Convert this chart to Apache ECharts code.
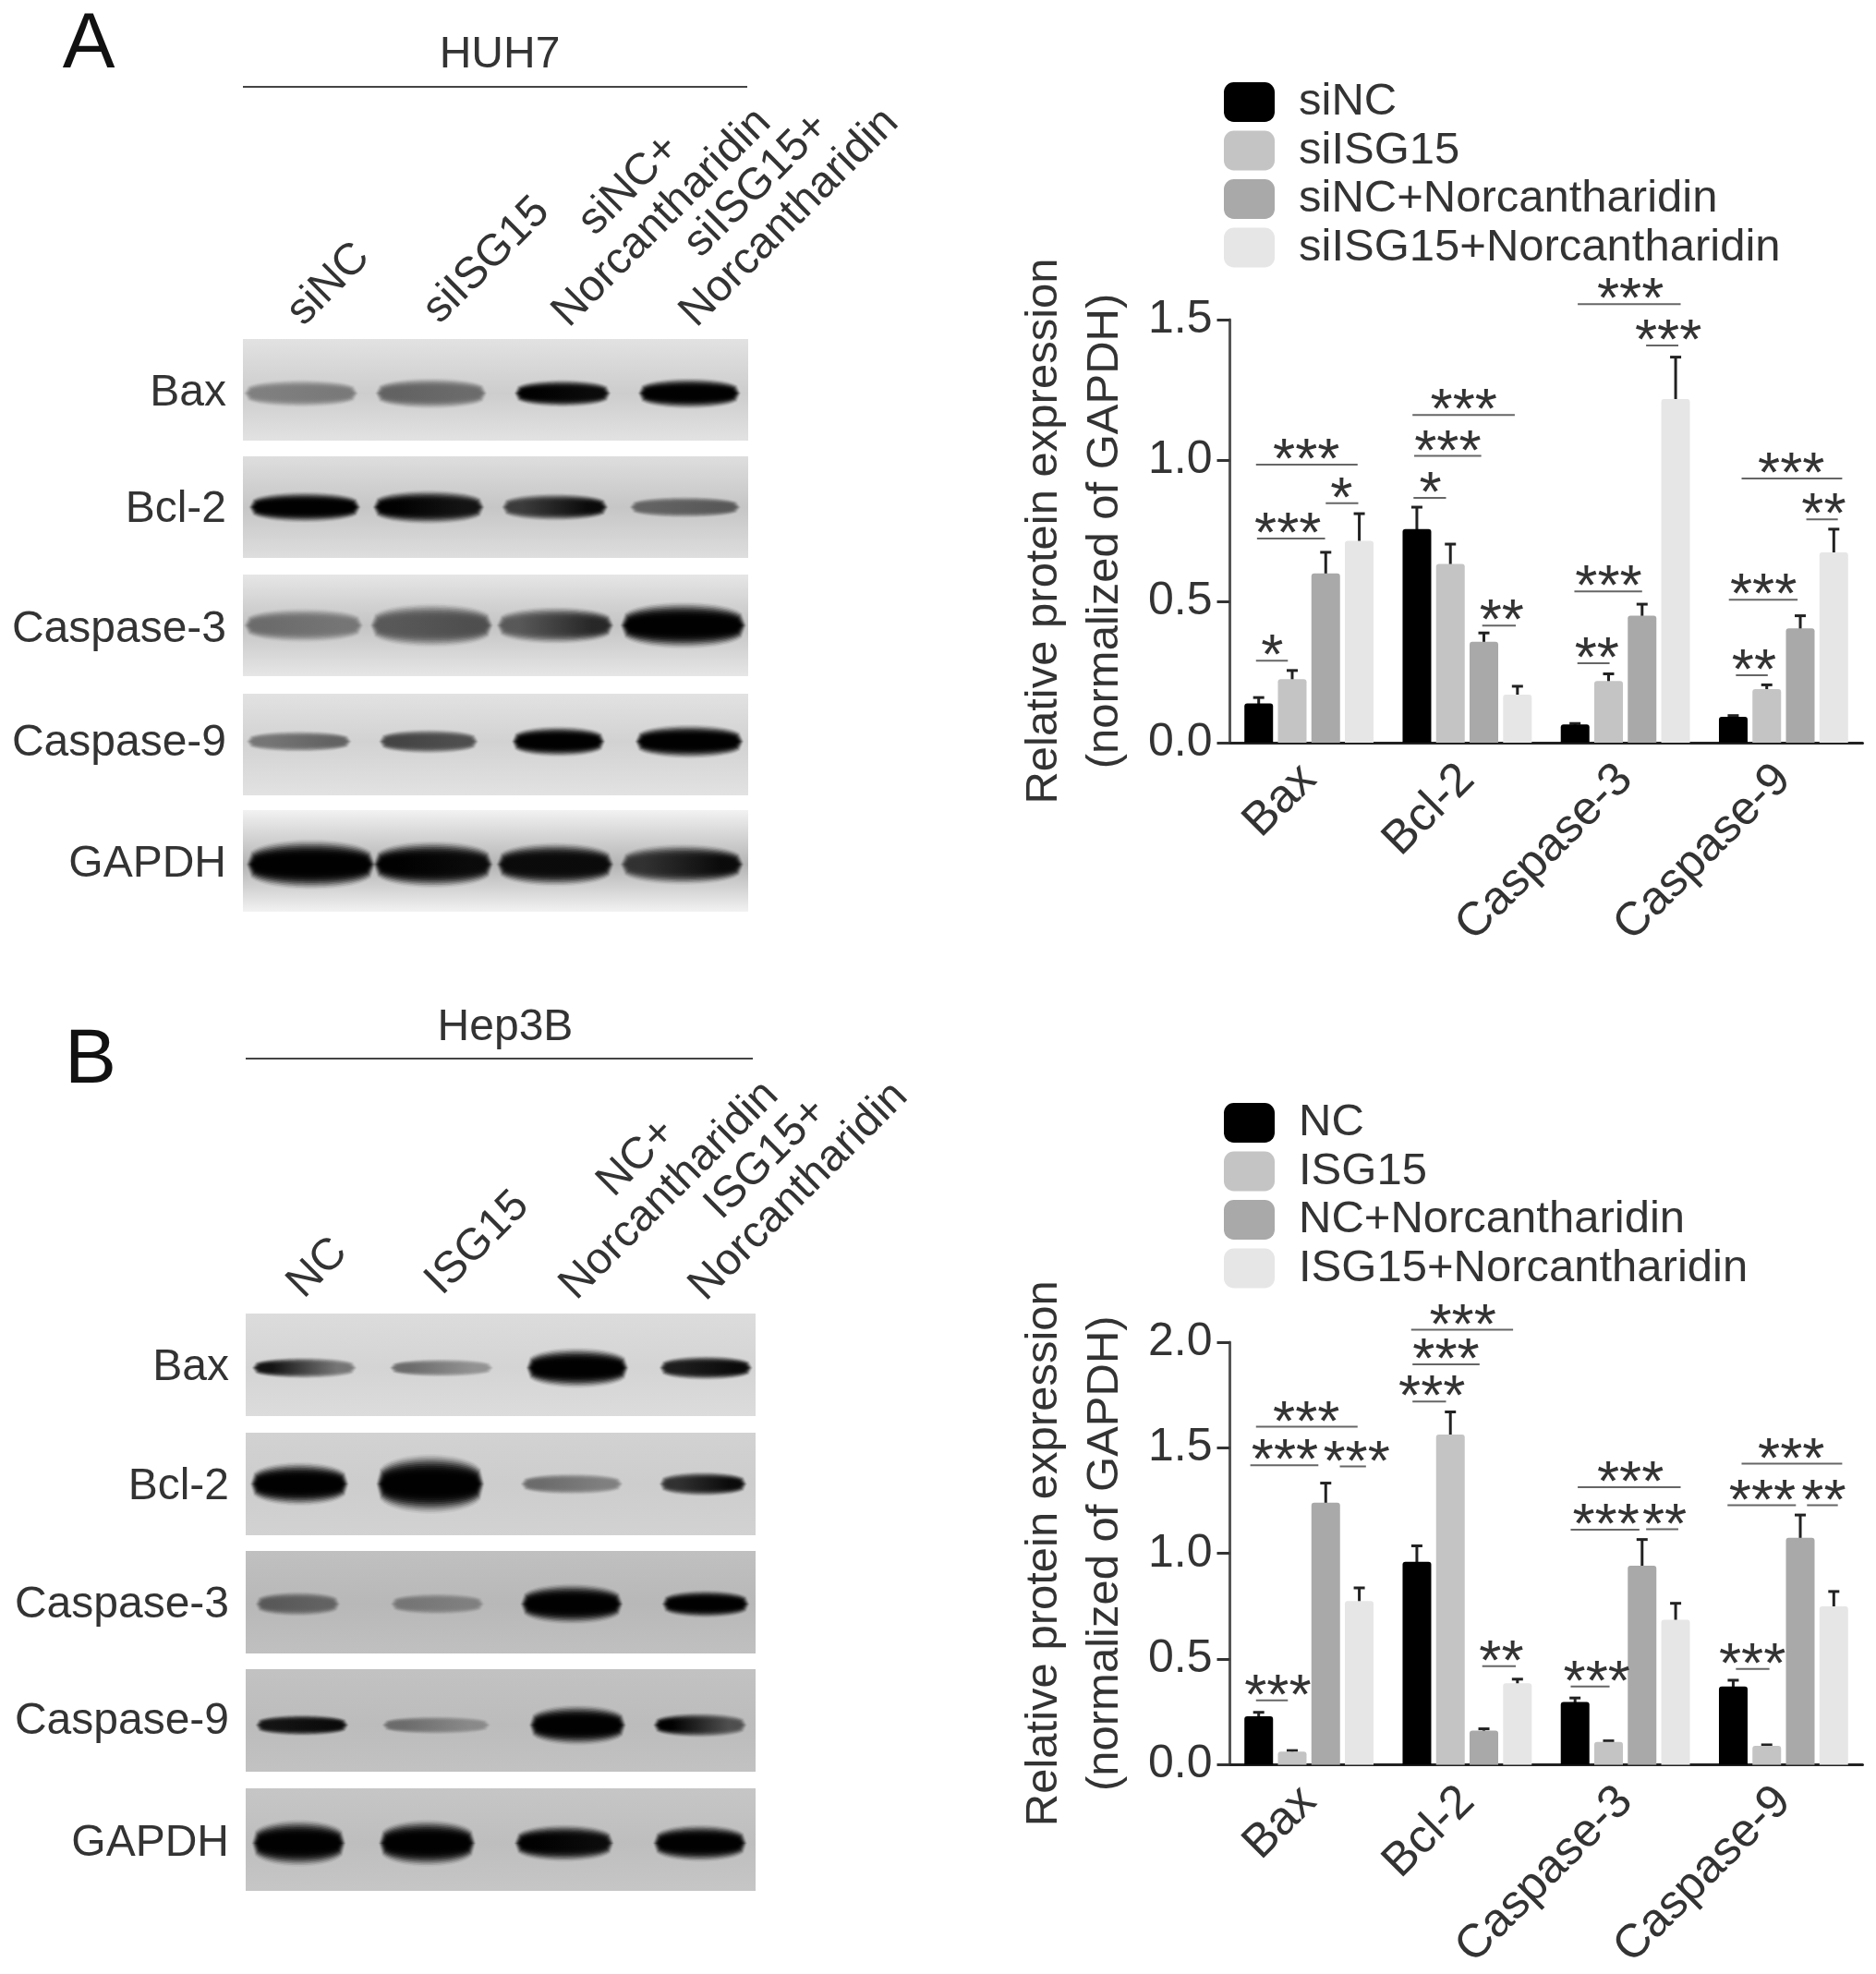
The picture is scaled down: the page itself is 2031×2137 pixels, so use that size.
<!DOCTYPE html>
<html>
<head>
<meta charset="utf-8">
<title>ISG15 western blots</title>
<script src="https://cdn.jsdelivr.net/npm/echarts@6/dist/echarts.min.js"></script>
<style>
  html, body { margin: 0; padding: 0; background: #fff; }
  #chart { width: 2031px; height: 2137px; filter: blur(0.6px); }
</style>
</head>
<body>
<div id="chart"></div>
<script>
const proteins = ['Bax', 'Bcl-2', 'Caspase-3', 'Caspase-9']
const blotRows = ['Bax', 'Bcl-2', 'Caspase-3', 'Caspase-9', 'GAPDH']

// panel A bars, order follows proteins
const huh7Groups = ['siNC', 'siISG15', 'siNC+Norcantharidin', 'siISG15+Norcantharidin']
const huh7SiNC = [0.139, 0.757, 0.065, 0.092]
const huh7SiISG15 = [0.225, 0.634, 0.219, 0.19]
const huh7SiNCNor = [0.6, 0.358, 0.45, 0.405]
const huh7SiISG15Nor = [0.716, 0.17, 1.218, 0.675]
// top of the error bars
const huh7SiNCTop = [0.16, 0.835, 0.068, 0.096]
const huh7SiISG15Top = [0.256, 0.704, 0.244, 0.205]
const huh7SiNCNorTop = [0.675, 0.389, 0.491, 0.45]
const huh7SiISG15NorTop = [0.812, 0.2, 1.367, 0.757]

// panel B bars
const hep3bGroups = ['NC', 'ISG15', 'NC+Norcantharidin', 'ISG15+Norcantharidin']
const hep3bNC = [0.229, 0.96, 0.297, 0.37]
const hep3bISG15 = [0.062, 1.563, 0.108, 0.089]
const hep3bNCNor = [1.24, 0.162, 0.942, 1.074]
const hep3bISG15Nor = [0.775, 0.386, 0.686, 0.75]
const hep3bNCTop = [0.248, 1.036, 0.316, 0.4]
const hep3bISG15Top = [0.067, 1.67, 0.113, 0.094]
const hep3bNCNorTop = [1.333, 0.17, 1.066, 1.182]
const hep3bISG15NorTop = [0.837, 0.405, 0.764, 0.82]

// significance: protein index, from slot, to slot, stars slot, height on the y axis, stars
const huh7Brackets = [
  [0, -0.08, 0.87, 0.4, 0.291, '*'],
  [0, -0.05, 1.98, 0.87, 0.724, '***'],
  [0, -0.08, 2.95, 1.42, 0.986, '***'],
  [0, 2, 2.97, 2.47, 0.849, '*'],
  [1, -0.1, 0.87, 0.4, 0.868, '*'],
  [1, -0.08, 1.92, 0.92, 1.017, '***'],
  [1, -0.13, 2.92, 1.4, 1.162, '***'],
  [1, 1.95, 2.95, 2.53, 0.415, '**'],
  [2, 0.07, 1.03, 0.65, 0.282, '**'],
  [2, -0.02, 2, 1, 0.536, '***'],
  [2, 0.08, 3.15, 1.65, 1.555, '***'],
  [2, 2.12, 3.08, 2.78, 1.408, '***'],
  [3, 0.08, 1.03, 0.62, 0.239, '**'],
  [3, -0.13, 1.92, 0.9, 0.507, '***'],
  [3, 0.25, 3.25, 1.73, 0.937, '***'],
  [3, 2.18, 3.12, 2.7, 0.792, '**']
]
const hep3bBrackets = [
  [0, -0.08, 0.87, 0.57, 0.305, '***'],
  [0, -0.25, 1.78, 0.78, 1.417, '***'],
  [0, -0.08, 2.95, 1.42, 1.6, '***'],
  [0, 2.42, 3.2, 2.92, 1.412, '***'],
  [1, -0.13, 0.87, 0.45, 1.719, '***'],
  [1, -0.13, 1.87, 0.87, 1.895, '***'],
  [1, -0.17, 2.87, 1.37, 2.059, '***'],
  [1, 1.95, 2.95, 2.52, 0.467, '**'],
  [2, -0.13, 1.03, 0.65, 0.37, '***'],
  [2, -0.13, 1.92, 0.92, 1.112, '***'],
  [2, 0.08, 3.15, 1.65, 1.314, '***'],
  [2, 2.12, 3.08, 2.67, 1.115, '**'],
  [3, 0.08, 1.08, 0.57, 0.453, '***'],
  [3, -0.17, 1.87, 0.87, 1.228, '***'],
  [3, 0.25, 3.25, 1.73, 1.425, '***'],
  [3, 2.2, 3.12, 2.7, 1.228, '**']
]

// band darkness per lane, [left end, right end], 0 = nothing, 1 = black
const huh7Bands = [
  [[0.35, 0.38], [0.5, 0.45], [1, 0.95], [1, 1]],
  [[1, 1], [1, 0.9], [0.7, 0.95], [0.5, 0.55]],
  [[0.45, 0.4], [0.55, 0.6], [0.55, 0.8], [1, 1]],
  [[0.4, 0.5], [0.65, 0.6], [1, 1], [1, 1]],
  [[1, 1], [1, 0.95], [0.95, 0.95], [0.75, 0.95]]
]
const hep3bBands = [
  [[0.9, 0.4], [0.45, 0.25], [1, 1], [0.85, 0.95]],
  [[1, 1], [1, 1], [0.45, 0.35], [0.75, 0.95]],
  [[0.55, 0.5], [0.4, 0.35], [1, 1], [1, 1]],
  [[0.9, 0.95], [0.45, 0.3], [1, 1], [1, 0.6]],
  [[1, 1], [1, 1], [1, 0.95], [1, 1]]
]

const FONT = '"Liberation Sans", Arial, sans-serif'
const TEXT = '#333'
const BAR_COLORS = ['#000000', '#c4c4c4', '#a9a9a9', '#e6e6e6']
const BAR_WIDTH = 31
const PITCH = 36.3

// blot panels, spans and band centre are fractions of the panel
const huh7Layout = [
  { top: 367, spans: [[0.01, 0.22], [0.27, 0.475], [0.545, 0.72], [0.79, 0.977]], mid: 0.535, thick: [18, 20, 18, 20], bg: ['#e2e2e2', '#cdcdcd'] },
  { top: 494, spans: [[0.02, 0.225], [0.265, 0.47], [0.52, 0.715], [0.773, 0.977]], mid: 0.5, thick: [20, 22, 18, 14], bg: ['#dedede', '#c6c6c6'] },
  { top: 622, spans: [[0.01, 0.23], [0.26, 0.487], [0.51, 0.726], [0.755, 0.988]], mid: 0.5, thick: [22, 28, 24, 30], bg: ['#e6e6e6', '#c4c4c4'] },
  { top: 751, spans: [[0.015, 0.207], [0.277, 0.458], [0.54, 0.709], [0.784, 0.983]], mid: 0.47, thick: [14, 16, 20, 22], bg: ['#e2e2e2', '#d2d2d2'] },
  { top: 877, spans: [[0.015, 0.254], [0.266, 0.487], [0.51, 0.726], [0.755, 0.983]], mid: 0.535, thick: [32, 30, 28, 26], bg: ['#f2f2f2', '#b4b4b4'] }
]
const hep3bLayout = [
  { top: 1422, spans: [[0.02, 0.21], [0.29, 0.478], [0.558, 0.743], [0.819, 0.986]], mid: 0.53, thick: [14, 12, 26, 16], bg: ['#dcdcdc', '#d4d4d4'] },
  { top: 1551, spans: [[0.017, 0.194], [0.264, 0.46], [0.547, 0.732], [0.819, 0.975]], mid: 0.5, thick: [28, 38, 14, 16], bg: ['#d2d2d2', '#cdcdcd'] },
  { top: 1679, spans: [[0.027, 0.177], [0.292, 0.46], [0.547, 0.732], [0.824, 0.98]], mid: 0.517, thick: [16, 14, 26, 18], bg: ['#c0c0c0', '#b8b8b8'] },
  { top: 1807, spans: [[0.027, 0.194], [0.275, 0.472], [0.564, 0.738], [0.807, 0.975]], mid: 0.546, thick: [14, 12, 26, 16], bg: ['#c2c2c2', '#bcbcbc'] },
  { top: 1936, spans: [[0.02, 0.188], [0.269, 0.443], [0.535, 0.714], [0.807, 0.975]], mid: 0.534, thick: [30, 30, 24, 24], bg: ['#c6c6c6', '#bebebe'] }
]

function gray (darkness, alpha) {
  const v = Math.round(195 * (1 - darkness))
  return 'rgba(' + v + ',' + v + ',' + v + ',' + alpha + ')'
}

// flat middle, tapered ends
function lens (x1, x2, y, half) {
  const pts = []
  const n = 28
  for (let i = 0; i <= n; i++) {
    const t = i / n
    const h = half * Math.pow(Math.sin(Math.PI * t), 0.28)
    pts.push([x1 + (x2 - x1) * t, y - h])
  }
  for (let i = n; i >= 0; i--) {
    const t = i / n
    const h = half * Math.pow(Math.sin(Math.PI * t), 0.28)
    pts.push([x1 + (x2 - x1) * t, y + h])
  }
  return pts
}

const grid = []
const xAxis = []
const yAxis = []
const series = []
const legend = []
const graphic = []

function addText (x, y, text, opts) {
  graphic.push(Object.assign({
    type: 'text',
    x: x,
    y: y,
    silent: true,
    style: Object.assign({
      text: text,
      fontFamily: FONT,
      fontSize: 48,
      fill: TEXT,
      textAlign: 'center',
      textVerticalAlign: 'middle'
    }, opts && opts.style)
  }, opts && opts.el))
}

function addBlot (layout, bands, left, width, height) {
  layout.forEach((row, r) => {
    const idx = grid.length
    grid.push({
      left: left,
      top: row.top,
      width: width,
      height: height,
      show: true,
      borderWidth: 0,
      backgroundColor: {
        type: 'linear',
        x: 0,
        y: 0,
        x2: 0,
        y2: 1,
        colorStops: [
          { offset: 0, color: row.bg[0] },
          { offset: row.mid, color: row.bg[1] },
          { offset: 1, color: row.bg[0] }
        ]
      }
    })
    xAxis.push({ gridIndex: idx, type: 'value', min: 0, max: 1, show: false })
    yAxis.push({ gridIndex: idx, type: 'value', min: 0, max: 1, inverse: true, show: false })
    series.push({
      type: 'custom',
      xAxisIndex: idx,
      yAxisIndex: idx,
      silent: true,
      clip: true,
      data: bands[r].map((b, lane) => [row.spans[lane][0], row.mid, row.spans[lane][1], b[0], b[1], lane]),
      renderItem: (params, api) => {
        const a = api.coord([api.value(0), api.value(1)])
        const b = api.coord([api.value(2), api.value(1)])
        const thick = row.thick[api.value(5)]
        const dl = api.value(3)
        const dr = api.value(4)
        // stacked translucent layers give the soft edge of a film band
        const children = []
        for (let k = 0; k < 12; k++) {
          const scale = 1.7 - 0.11 * k
          const grow = (scale - 1) * 7
          const alpha = (0.06 + 0.055 * k).toFixed(3)
          children.push({
            type: 'polygon',
            shape: { points: lens(a[0] - grow, b[0] + grow, a[1], thick * scale / 2) },
            style: {
              fill: {
                type: 'linear',
                x: 0,
                y: 0,
                x2: 1,
                y2: 0,
                colorStops: [
                  { offset: 0.15, color: gray(dl, alpha) },
                  { offset: 0.85, color: gray(dr, alpha) }
                ]
              }
            }
          })
        }
        return { type: 'group', children: children }
      }
    })
  })
}

function addBars (cfg) {
  const idx = grid.length
  grid.push({ left: 1331.5, top: cfg.top, width: 685, height: cfg.height })
  xAxis.push({
    gridIndex: idx,
    type: 'category',
    data: proteins,
    axisTick: { alignWithLabel: true, length: 14, lineStyle: { color: TEXT, width: 3 } },
    axisLine: { lineStyle: { color: '#222', width: 3 } },
    axisLabel: { rotate: 45, margin: 32, fontFamily: FONT, fontSize: 51, color: TEXT, interval: 0 }
  })
  yAxis.push({
    gridIndex: idx,
    type: 'value',
    min: 0,
    max: cfg.max,
    interval: 0.5,
    name: 'Relative protein expression\n(normalized of GAPDH)',
    nameLocation: 'middle',
    nameRotate: 90,
    nameGap: 102,
    nameTextStyle: { fontFamily: FONT, fontSize: 49, color: TEXT, lineHeight: 66 },
    splitLine: { show: false },
    axisLine: { show: true, lineStyle: { color: '#555', width: 3 } },
    axisTick: { show: true, length: 14, lineStyle: { color: TEXT, width: 3 } },
    axisLabel: { margin: 19, fontFamily: FONT, fontSize: 50, color: TEXT, formatter: v => v.toFixed(1) }
  })
  cfg.values.forEach((vals, s) => {
    series.push({
      name: cfg.names[s],
      type: 'bar',
      xAxisIndex: idx,
      yAxisIndex: idx,
      data: vals,
      barWidth: BAR_WIDTH,
      barGap: '17%',
      itemStyle: { color: BAR_COLORS[s], borderRadius: [3, 3, 0, 0] },
      silent: true
    })
    series.push({
      type: 'custom',
      xAxisIndex: idx,
      yAxisIndex: idx,
      silent: true,
      z: 1,
      data: vals.map((v, i) => [i, v, cfg.tops[s][i]]),
      renderItem: (params, api) => {
        const base = api.coord([api.value(0), api.value(1)])
        const top = api.coord([api.value(0), api.value(2)])
        const x = base[0] + (s - 1.5) * PITCH
        const line = { stroke: '#222', lineWidth: 3 }
        return {
          type: 'group',
          children: [
            { type: 'line', shape: { x1: x, y1: base[1] + 2, x2: x, y2: top[1] }, style: line },
            { type: 'line', shape: { x1: x - 6, y1: top[1], x2: x + 6, y2: top[1] }, style: line }
          ]
        }
      }
    })
  })
  series.push({
    type: 'custom',
    xAxisIndex: idx,
    yAxisIndex: idx,
    silent: true,
    z: 5,
    data: cfg.brackets.map(b => [b[0], b[4]]),
    renderItem: (params, api) => {
      const b = cfg.brackets[params.dataIndex]
      const c = api.coord([api.value(0), api.value(1)])
      return {
        type: 'group',
        children: [
          {
            type: 'line',
            shape: { x1: c[0] + (b[1] - 1.5) * PITCH, y1: c[1], x2: c[0] + (b[2] - 1.5) * PITCH, y2: c[1] },
            style: { stroke: '#666', lineWidth: 2 }
          },
          {
            type: 'text',
            style: {
              text: b[5],
              x: c[0] + (b[3] - 1.5) * PITCH,
              y: c[1] - 3,
              align: 'center',
              verticalAlign: 'middle',
              fontFamily: FONT,
              fontSize: 62,
              fill: '#333'
            }
          }
        ]
      }
    }
  })
  legend.push({
    orient: 'vertical',
    left: 1325,
    top: cfg.legendTop,
    padding: 0,
    itemWidth: 55,
    itemHeight: 43,
    itemGap: 3.5,
    icon: 'roundRect',
    selectedMode: false,
    data: cfg.names,
    textStyle: { fontFamily: FONT, fontSize: 49, color: TEXT, padding: [0, 0, 0, 21], lineHeight: 49 }
  })
}

addBlot(huh7Layout, huh7Bands, 263, 547, 110)
addBlot(hep3bLayout, hep3bBands, 266, 552, 111)

addBars({
  top: 346,
  height: 458,
  max: 1.5,
  names: huh7Groups,
  values: [huh7SiNC, huh7SiISG15, huh7SiNCNor, huh7SiISG15Nor],
  tops: [huh7SiNCTop, huh7SiISG15Top, huh7SiNCNorTop, huh7SiISG15NorTop],
  brackets: huh7Brackets,
  legendTop: 86
})
addBars({
  top: 1453,
  height: 458,
  max: 2,
  names: hep3bGroups,
  values: [hep3bNC, hep3bISG15, hep3bNCNor, hep3bISG15Nor],
  tops: [hep3bNCTop, hep3bISG15Top, hep3bNCNorTop, hep3bISG15NorTop],
  brackets: hep3bBrackets,
  legendTop: 1191
})

// panel letters and cell line titles
addText(96, 50, 'A', { style: { fontSize: 85, fill: '#111' } })
addText(98, 1149, 'B', { style: { fontSize: 84, fill: '#111' } })
addText(541, 60, 'HUH7')
addText(547, 1113, 'Hep3B')
graphic.push({ type: 'line', silent: true, shape: { x1: 263, y1: 94, x2: 809, y2: 94 }, style: { stroke: '#444', lineWidth: 2 } })
graphic.push({ type: 'line', silent: true, shape: { x1: 266, y1: 1146, x2: 815, y2: 1146 }, style: { stroke: '#444', lineWidth: 2 } })

// row names beside the blots
const huh7RowY = [426, 552, 682, 805, 936]
const hep3bRowY = [1481, 1610, 1738, 1864, 1996]
blotRows.forEach((name, i) => {
  addText(245, huh7RowY[i], name, { style: { textAlign: 'right' } })
  addText(248, hep3bRowY[i], name, { style: { textAlign: 'right' } })
})

// lane names
const laneLabels = [
  [356, 308, 'siNC'],
  [527, 282, 'siISG15'],
  [699, 218, 'siNC+\nNorcantharidin'],
  [837, 218, 'siISG15+\nNorcantharidin'],
  [344, 1373, 'NC'],
  [517, 1346, 'ISG15'],
  [707, 1271, 'NC+\nNorcantharidin'],
  [847, 1272, 'ISG15+\nNorcantharidin']
]
laneLabels.forEach(l => {
  addText(l[0], l[1], l[2], { el: { rotation: Math.PI / 4 }, style: { lineHeight: 50 } })
})

const chart = echarts.init(document.getElementById('chart'), null, { renderer: 'canvas' })
chart.setOption({
  animation: false,
  backgroundColor: '#fff',
  grid: grid,
  xAxis: xAxis,
  yAxis: yAxis,
  legend: legend,
  series: series,
  graphic: graphic
})
</script>
</body>
</html>
